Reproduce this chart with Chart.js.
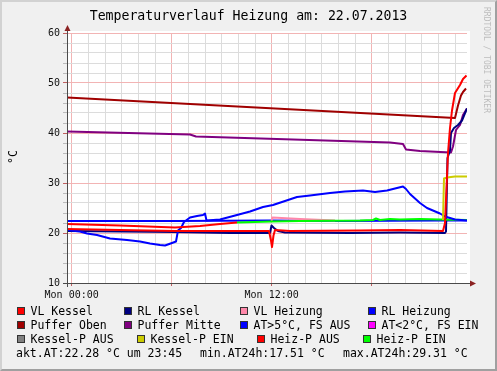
<!DOCTYPE html>
<html>
<head>
<meta charset="UTF-8">
<title>Temperaturverlauf Heizung</title>
<script src="https://cdn.jsdelivr.net/npm/chart.js@4.4.0/dist/chart.umd.min.js"></script>
<style>
  body { margin:0; background:#f0f0f0; }
  #wrap { position:relative; width:497px; height:371px; background:#f0f0f0; overflow:hidden;
          font-family:'DejaVu Sans Mono', monospace; color:#000; }
  #frame { position:absolute; left:0; top:0; width:497px; height:371px; box-sizing:border-box;
           border-left:2px solid #d2d2d2; border-top:2px solid #d2d2d2;
           border-right:2px solid #a0a0a0; border-bottom:2px solid #a0a0a0; pointer-events:none; }
  canvas { position:absolute; left:0; top:0; }
  .t { position:absolute; white-space:pre; line-height:14px; font-size:11.5px; }
  .sw { position:absolute; width:6px; height:6px; border:1px solid #333; }
</style>
</head>
<body>
<div id="wrap">
  <canvas id="c" width="497" height="371"></canvas>
  <div class="t" style="left:0;width:497px;top:8px;line-height:16px;font-size:13.2px;text-align:center">Temperaturverlauf Heizung am: 22.07.2013</div>
  <div class="t" style="left:13px;top:157px;transform:translate(-50%,-50%) rotate(-90deg)">°C</div>
  <div class="t" style="left:482px;top:7px;font-size:8px;line-height:9px;color:#bdbdbd;writing-mode:vertical-rl">RRDTOOL / TOBI OETIKER</div>
  <div id="legend"></div>
  <div id="frame"></div>
</div>
<script>
// time axis in hours (Mon 00:00 = 0)
var X_MIN = -0.28, X_MAX = 23.72;
var hourTicks = [0,1,2,3,4,5,6,7,8,9,10,11,12,13,14,15,16,17,18,19,20,21,22,23];
var xLabels = { 0: 'Mon 00:00', 12: 'Mon 12:00' };
var yTicks = [10,12,14,16,18,20,22,24,26,28,30,32,34,36,38,40,42,44,46,48,50,52,54,56,58,60];

// VL Kessel
var vlKesselH = [-0.28, 2.90, 6.20, 9.50, 11.84, 11.96, 12.02, 12.11, 12.20, 13.10, 17.30, 19.70, 22.28, 22.40, 22.58, 22.70, 22.82, 23.00, 23.30, 23.48, 23.69];
var vlKesselT = [20.8, 20.6, 20.4, 20.4, 20.4, 18.5, 17.2, 19.5, 20.6, 20.4, 20.5, 20.6, 20.4, 22.0, 36.0, 41.0, 44.5, 48.0, 49.6, 50.8, 51.5];
// RL Kessel
var rlKesselH = [-0.28, 6.20, 9.50, 11.90, 11.99, 12.14, 12.38, 12.80, 16.70, 19.70, 22.40, 22.46, 22.55, 22.70, 22.76, 22.94, 23.18, 23.42, 23.72];
var rlKesselT = [20.4, 20.2, 20.0, 20.0, 21.5, 21.0, 20.4, 20.1, 20.0, 20.1, 20.0, 20.3, 35.0, 36.5, 40.0, 41.0, 41.6, 42.5, 44.9];
// VL Heizung
var vlHeizH = [11.99, 12.05, 13.70, 15.80];
var vlHeizT = [22.4, 23.1, 22.8, 22.5];
// RL Heizung
var rlHeizH = [-0.28, 6.20, 11.90, 16.00, 22.20, 23.72];
var rlHeizT = [22.4, 22.4, 22.5, 22.4, 22.5, 22.5];
// Puffer Oben
var pufOH = [-0.28, 23.00, 23.18, 23.36, 23.48, 23.66];
var pufOT = [47.1, 43.0, 45.5, 47.5, 48.2, 48.9];
// Puffer Mitte
var pufMH = [-0.28, 7.10, 7.46, 19.10, 19.88, 20.06, 20.90, 22.76, 22.88, 23.06, 23.30, 23.48, 23.72];
var pufMT = [40.3, 39.7, 39.3, 38.1, 37.8, 36.7, 36.4, 36.1, 37.3, 40.6, 41.6, 43.6, 44.9];
// Aussentemperatur (AT>5°C)
var atH = [-0.28, 0.50, 0.92, 1.52, 2.30, 3.32, 4.10, 4.70, 5.30, 5.60, 6.02, 6.26, 6.38, 6.56, 6.74, 7.10, 7.52, 7.88, 8.00, 8.09, 8.90, 9.92, 10.70, 11.48, 12.08, 13.52, 14.30, 15.50, 16.40, 17.48, 18.20, 18.92, 19.40, 19.88, 20.06, 20.30, 20.90, 21.32, 22.10, 22.40, 22.70, 23.00, 23.72];
var atT = [20.6, 20.3, 19.9, 19.6, 18.9, 18.6, 18.3, 17.9, 17.6, 17.5, 18.0, 18.3, 20.5, 21.0, 22.2, 23.1, 23.4, 23.6, 23.9, 22.5, 22.7, 23.6, 24.3, 25.2, 25.6, 27.2, 27.5, 28.0, 28.3, 28.5, 28.2, 28.5, 28.9, 29.3, 28.8, 27.8, 26.0, 25.0, 23.9, 23.3, 23.0, 22.7, 22.5];
// Kessel-P EIN
var kpEinH = [22.28, 22.34, 22.52, 23.00, 23.72];
var kpEinT = [22.6, 30.9, 31.1, 31.3, 31.3];
// Heiz-P AUS
var hpAusH = [-0.28, 2.90, 6.20, 7.70, 8.90, 9.92];
var hpAusT = [21.8, 21.5, 21.1, 21.4, 21.8, 22.1];
// Heiz-P EIN
var hpEinH = [9.92, 12.02, 13.70, 17.30, 18.08, 18.26, 18.50, 19.10, 19.70, 20.90, 22.10, 23.72];
var hpEinT = [22.1, 22.3, 22.4, 22.5, 22.6, 22.9, 22.6, 22.8, 22.7, 22.8, 22.7, 22.6];

var legendNames = ['VL Kessel','RL Kessel','VL Heizung','RL Heizung',
                   'Puffer Oben','Puffer Mitte','AT>5°C, FS AUS','AT<2°C, FS EIN',
                   'Kessel-P AUS','Kessel-P EIN','Heiz-P AUS','Heiz-P EIN'];
var legendColors = ['#ff0000','#000080','#ff88aa','#0000ff',
                    '#a00000','#800080','#0000ff','#ff00ff',
                    '#808080','#cccc00','#ff0000','#00ff00'];
var legendCols = [[17,124,240,368],[17,124,240,368],[17,137,257,363]];
var statLines = ['akt.AT:22.28 °C um 23:45','min.AT24h:17.51 °C','max.AT24h:29.31 °C'];
var statCols = [16,200,343];

function pts(h, v) {
    var out = [];
    for (var i = 0; i < h.length; i++) out.push({ x: h[i], y: v[i] });
    return out;
}

// legend (html text)
var lg = document.getElementById('legend');
var html = '';
for (var i = 0; i < legendNames.length; i++) {
    var row = Math.floor(i / 4), col = i % 4;
    var cy = 311 + row * 14;
    var sx = legendCols[row][col];
    html += '<div class="sw" style="left:' + sx + 'px;top:' + (cy - 4) + 'px;background:' + legendColors[i] + '"></div>';
    html += '<div class="t" style="left:' + (sx + 13.5) + 'px;top:' + (cy - 7) + 'px">' + legendNames[i].replace('<', '&lt;').replace('>', '&gt;') + '</div>';
}
for (var j = 0; j < statLines.length; j++) {
    html += '<div class="t" style="left:' + statCols[j] + 'px;top:' + (353 - 7) + 'px">' + statLines[j] + '</div>';
}
lg.innerHTML = html;

var MAJOR = '#f2b4b4', MINOR = '#dcdcdc';

var rrdPlugin = {
    id: 'rrd',
    beforeDraw: function (chart) {
        var a = chart.chartArea, c = chart.ctx;
        c.save();
        c.fillStyle = '#ffffff';
        c.fillRect(a.left + 1, a.top - 2, a.right - a.left + 2, a.bottom - a.top + 2);
        c.restore();
    },
    afterDraw: function (chart) {
        var a = chart.chartArea, c = chart.ctx;
        c.save();
        c.strokeStyle = '#4a4a4a';
        c.lineWidth = 1;
        c.beginPath();
        c.moveTo(a.left + 0.5, a.bottom + 4);
        c.lineTo(a.left + 0.5, a.top - 3);
        c.moveTo(a.left - 4, a.bottom + 0.5);
        c.lineTo(a.right + 4, a.bottom + 0.5);
        c.stroke();
        c.fillStyle = '#8b2222';
        c.beginPath();
        c.moveTo(a.left - 2.5, a.top - 2);
        c.lineTo(a.left + 3.5, a.top - 2);
        c.lineTo(a.left + 0.5, a.top - 8);
        c.closePath();
        c.fill();
        c.beginPath();
        c.moveTo(a.right + 3, a.bottom - 2.5);
        c.lineTo(a.right + 3, a.bottom + 3.5);
        c.lineTo(a.right + 9, a.bottom + 0.5);
        c.closePath();
        c.fill();
        c.restore();
    }
};

function ds(label, data, color) {
    return { label: label, data: data, borderColor: color, backgroundColor: color,
             borderWidth: 2, pointRadius: 0, fill: false, tension: 0, borderJoinStyle: 'round' };
}

function isMajor(c, step) {
    return c.tick && Math.abs(c.tick.value % step) < 1e-6;
}

Chart.defaults.font.family = "'DejaVu Sans Mono', monospace";

new Chart(document.getElementById('c').getContext('2d'), {
    type: 'line',
    data: {
        datasets: [
            ds('VL Kessel', pts(vlKesselH, vlKesselT), '#ff0000'),
            ds('Heiz-P AUS', pts(hpAusH, hpAusT), '#ff0000'),
            ds('Kessel-P EIN', pts(kpEinH, kpEinT), '#cccc00'),
            ds('AT>5°C, FS AUS', pts(atH, atT), '#0000ff'),
            ds('Heiz-P EIN', pts(hpEinH, hpEinT), '#00ff00'),
            ds('VL Heizung', pts(vlHeizH, vlHeizT), '#ff88aa'),
            ds('RL Kessel', pts(rlKesselH, rlKesselT), '#000080'),
            ds('RL Heizung', pts(rlHeizH, rlHeizT), '#0000ff'),
            ds('Puffer Oben', pts(pufOH, pufOT), '#a00000'),
            ds('Puffer Mitte', pts(pufMH, pufMT), '#800080')
        ]
    },
    options: {
        responsive: false,
        devicePixelRatio: 1,
        animation: false,
        layout: { padding: { top: 33, right: 30, bottom: 68, left: 0 } },
        plugins: { legend: { display: false }, tooltip: { enabled: false }, title: { display: false } },
        scales: {
            x: {
                type: 'linear', min: X_MIN, max: X_MAX,
                afterBuildTicks: function (s) { s.ticks = hourTicks.map(function (v) { return { value: v }; }); },
                afterFit: function (s) { s.height = 20; },
                border: { display: false },
                grid: {
                    color: function (c) { return isMajor(c, 6) ? MAJOR : MINOR; },
                    tickColor: function (c) { return isMajor(c, 6) ? '#c06060' : 'rgba(0,0,0,0)'; },
                    tickLength: 3, lineWidth: 1
                },
                ticks: {
                    autoSkip: false, maxRotation: 0, minRotation: 0, padding: 3, color: '#111',
                    font: { size: 10 },
                    callback: function (v) { return xLabels[v] || ''; }
                }
            },
            y: {
                min: 10, max: 60,
                afterBuildTicks: function (s) { s.ticks = yTicks.map(function (v) { return { value: v }; }); },
                afterFit: function (s) { s.width = 67; },
                border: { display: false },
                grid: {
                    color: function (c) { return isMajor(c, 10) ? MAJOR : MINOR; },
                    tickColor: function (c) { return isMajor(c, 10) ? '#c06060' : '#bbbbbb'; },
                    tickLength: 4, lineWidth: 1
                },
                ticks: {
                    autoSkip: false, padding: 3, color: '#111', font: { size: 10 },
                    callback: function (v) { return v % 10 === 0 ? String(v) : ''; }
                }
            }
        }
    },
    plugins: [rrdPlugin]
});
</script>
</body>
</html>
